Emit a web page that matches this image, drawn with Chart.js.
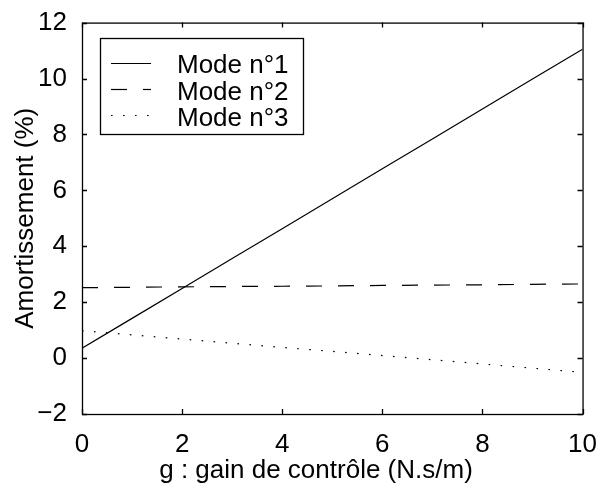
<!DOCTYPE html>
<html><head><meta charset="utf-8">
<script src="https://cdn.jsdelivr.net/npm/chart.js@4/dist/chart.umd.min.js"></script>
<style>html,body{margin:0;padding:0;background:#fff}#wrap{width:604px;height:498px;position:relative}</style>
</head><body><div id="wrap"><canvas id="c" width="604" height="498"></canvas></div>
<script>
const gain  = [0, 1, 2, 3, 4, 5, 6, 7, 8, 9, 10];
const mode1 = [0.35, 1.42, 2.49, 3.56, 4.63, 5.70, 6.77, 7.84, 8.91, 9.98, 11.05];
const mode2 = [2.52, 2.53, 2.55, 2.56, 2.57, 2.58, 2.60, 2.61, 2.62, 2.64, 2.65];
const mode3 = [0.98, 0.83, 0.68, 0.53, 0.38, 0.24, 0.09, -0.06, -0.21, -0.36, -0.51];
const seriesNames = ['Mode n°1', 'Mode n°2', 'Mode n°3'];
const xTicks = [0, 2, 4, 6, 8, 10];
const xTickLabels = ['0', '2', '4', '6', '8', '10'];
const yTicks = [-2, 0, 2, 4, 6, 8, 10, 12];
const yTickLabels = ['\u22122', '0', '2', '4', '6', '8', '10', '12'];
const xTitle = 'g : gain de contrôle (N.s/m)';
const yTitle = 'Amortissement (%)';

const FONT = '"Liberation Sans", Arial, Helvetica, sans-serif';
const FS = 26;
const dashes = [[], [16, 16], [1.6, 10.4]];
const seriesVals = [mode1, mode2, mode3];

const decor = {
  id: 'decor',
  afterDraw(chart) {
    const ctx = chart.ctx, ca = chart.chartArea;
    const xs = chart.scales.x, ys = chart.scales.y;
    ctx.save();
    ctx.strokeStyle = '#000';
    ctx.lineWidth = 1.3;
    ctx.setLineDash([]);
    ctx.strokeRect(ca.left + 0.5, ca.top + 0.5, ca.right - ca.left, ca.bottom - ca.top);
    const tl = 5;
    ctx.beginPath();
    xTicks.forEach(v => {
      const p = Math.round(xs.getPixelForValue(v)) + 0.5;
      ctx.moveTo(p, ca.bottom); ctx.lineTo(p, ca.bottom - tl);
      ctx.moveTo(p, ca.top); ctx.lineTo(p, ca.top + tl);
    });
    yTicks.forEach(v => {
      const p = Math.round(ys.getPixelForValue(v)) + 0.5;
      ctx.moveTo(ca.left, p); ctx.lineTo(ca.left + tl, p);
      ctx.moveTo(ca.right, p); ctx.lineTo(ca.right - tl, p);
    });
    ctx.stroke();

    // legend
    const lx = 100.5, ly = 38.5, lw = 203, lh = 96;
    ctx.fillStyle = '#fff';
    ctx.fillRect(lx, ly, lw, lh);
    ctx.lineWidth = 1.3;
    ctx.strokeRect(lx, ly, lw, lh);
    const rowsY = [63.5, 89.5, 115.5];
    const baseY = [73.3, 99.8, 125.8];
    ctx.font = FS + 'px ' + FONT;
    ctx.textBaseline = 'alphabetic';
    ctx.textAlign = 'left';
    ctx.fillStyle = '#000';
    seriesNames.forEach((n, i) => {
      ctx.lineWidth = 1.2;
      ctx.setLineDash(dashes[i]);
      ctx.beginPath();
      ctx.moveTo(111, rowsY[i]); ctx.lineTo(151, rowsY[i]);
      ctx.stroke();
      ctx.setLineDash([]);
      ctx.fillText(n, 177, baseY[i]);
    });

    // titles
    ctx.textAlign = 'center';
    ctx.fillText(xTitle, 316, 477.5);
    ctx.translate(33, (ca.top + ca.bottom) / 2);
    ctx.rotate(-Math.PI / 2);
    ctx.fillText(yTitle, 0, 0);
    ctx.restore();
  }
};

new Chart(document.getElementById('c'), {
  type: 'line',
  data: {
    datasets: seriesNames.map((n, i) => ({
      label: n,
      data: gain.map((g, k) => ({ x: g, y: seriesVals[i][k] })),
      borderColor: '#000',
      borderWidth: 1.2,
      borderDash: dashes[i],
      pointRadius: 0,
      tension: 0,
      fill: false
    }))
  },
  options: {
    responsive: false,
    animation: false,
    devicePixelRatio: 1,
    layout: { padding: { left: 0, right: 19, top: 17, bottom: 0 } },
    plugins: { legend: { display: false }, tooltip: { enabled: false } },
    scales: {
      x: {
        type: 'linear', min: 0, max: 10,
        afterBuildTicks: s => { s.ticks = xTicks.map(v => ({ value: v })); },
        afterFit: s => { s.height = 84; },
        grid: { display: false }, border: { display: false },
        ticks: {
          autoSkip: false, maxRotation: 0, padding: 7, color: '#000',
          font: { family: FONT, size: FS },
          callback: v => xTickLabels[xTicks.indexOf(v)]
        }
      },
      y: {
        type: 'linear', min: -2, max: 12,
        afterBuildTicks: s => { s.ticks = yTicks.map(v => ({ value: v })); },
        afterFit: s => { s.width = 82; },
        grid: { display: false }, border: { display: false },
        ticks: {
          autoSkip: false, padding: 7, color: '#000',
          font: { family: FONT, size: FS },
          callback: v => yTickLabels[yTicks.indexOf(v)]
        }
      }
    }
  },
  plugins: [decor]
});
</script>
</body></html>
